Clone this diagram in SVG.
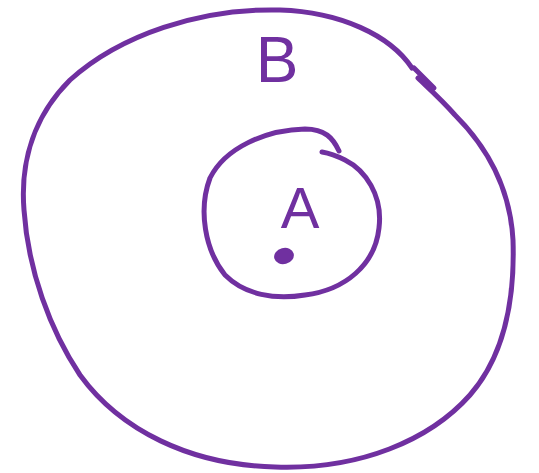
<svg xmlns="http://www.w3.org/2000/svg" width="539" height="473" viewBox="0 0 539 473">
<style>
.ln{fill:none;stroke:#7030a0;stroke-width:5;stroke-linecap:round;stroke-linejoin:round}
.lbl{font-family:"Liberation Sans","DejaVu Sans",sans-serif;fill:#7030a0;text-anchor:middle}
</style>
<rect width="539" height="473" fill="#fff"/>
<g id="B">
<path class="ln" d="M412,68 C390,35 340,12 280,10 C200,8 120,35 70,80 C35,115 20,160 24,210 C28,270 50,330 80,375 C120,430 190,465 275,467 C360,470 430,440 470,395 C505,355 515,300 513,240 C510,185 485,145 455,115 C440,98 425,85 418,78"/>
<path class="ln" d="M414,68 L434,88"/>
<text class="lbl" x="277" y="82" font-size="64">B</text>
</g>
<g id="A">
<path class="ln" d="M339,151 C333,138 325,129 305,129 C265,130 225,148 210,178 C198,210 205,250 225,275 C245,295 275,300 305,295 C345,290 375,265 379,228 C383,195 365,170 345,160 C335,155 328,153 322,152"/>
<text class="lbl" x="300" y="228" font-size="58">A</text>
<ellipse cx="284" cy="256" rx="10" ry="8" fill="#7030a0" transform="rotate(-15 284 256)"/>
</g>
</svg>
